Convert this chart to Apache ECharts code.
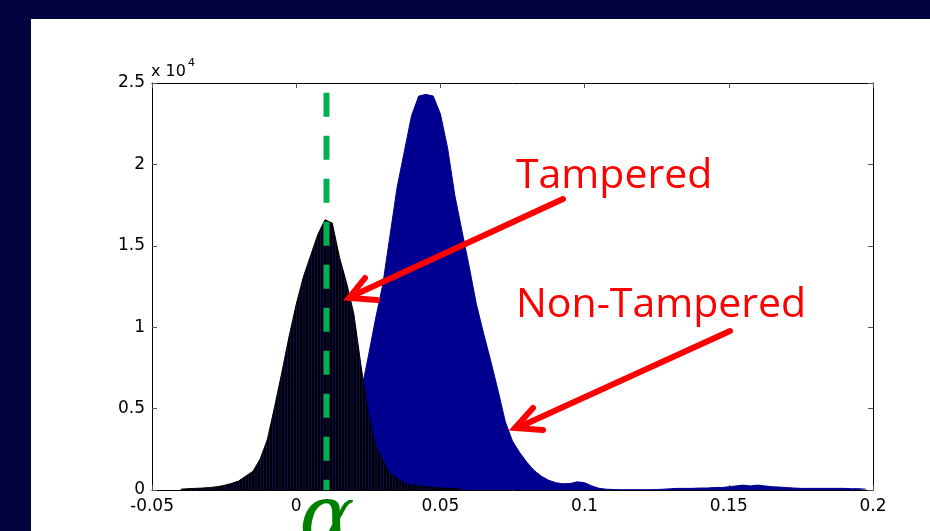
<!DOCTYPE html>
<html>
<head>
<meta charset="utf-8">
<script src="https://cdn.jsdelivr.net/npm/echarts@6.0.0/dist/echarts.min.js"></script>
<style>
  html, body { margin: 0; padding: 0; background: #03033f; }
  #histChart { width: 930px; height: 531px; }
</style>
</head>
<body>
<div id="histChart"></div>
<script>
// histogram bins (bin width 0.0025), counts
const binWidth = 0.0025;

const tamperedStart = -0.04;
const tamperedCounts = [
  50, 80, 100, 120, 150, 200, 280, 400, 550, 850,
  1150, 1900, 3100, 5100, 7200, 9400, 11400, 13100, 14400, 15700,
  16600, 16400, 14300, 12700, 10800, 7600, 4700, 2700, 1800, 1000,
  700, 400, 300, 250, 200, 150, 120, 100, 80, 50
];

const nonTamperedStart = 0.0075;
const nonTamperedCounts = [
  100, 300, 700, 1400, 2500, 4000, 6000, 8200, 10500, 12600,
  15600, 18600, 20800, 23000, 24200, 24300, 24200, 23100, 21000, 18100,
  15900, 13700, 11400, 9600, 7900, 6100, 4200, 3000, 2300, 1700,
  1200, 850, 600, 450, 380, 400, 500, 450, 250, 100,
  50, 30, 20, 20, 20, 20, 20, 30, 50, 80,
  100, 100, 100, 120, 120, 150, 150, 200, 250, 300,
  250, 300, 250, 200, 180, 150, 120, 100, 100, 100,
  100, 100, 100, 100, 80, 80, 50
];

// threshold alpha (green dashed line)
const alpha = 0.0105;
const alphaTop = 24400;

const xTicks = [-0.05, 0, 0.05, 0.1, 0.15, 0.2];
const yTickLabels = ['0', '0.5', '1', '1.5', '2', '2.5'];

const toPairs = (start, counts) =>
  counts.map((c, i) => [+(start + i * binWidth).toFixed(5), c]);

// black fill with thin navy bar edges, like the many narrow histogram bars
const stripeCanvas = document.createElement('canvas');
stripeCanvas.width = 3;
stripeCanvas.height = 4;
let sctx = stripeCanvas.getContext('2d');
sctx.fillStyle = '#000000';
sctx.fillRect(0, 0, 3, 4);
sctx.fillStyle = '#0b0b55';
sctx.fillRect(2, 0, 1, 4);

let myChart = echarts.init(document.getElementById('histChart'), null, { renderer: 'canvas' });

const axisFont = { fontFamily: 'DejaVu Sans', fontSize: 17, color: '#000' };

let option = {
  backgroundColor: '#03033f',
  animation: false,
  grid: { left: 152, right: 57, top: 83, bottom: 41 },
  xAxis: [
    {
      type: 'value', min: xTicks[0], max: xTicks[xTicks.length - 1], interval: 0.05,
      axisLine: { onZero: false, lineStyle: { color: '#000', width: 1 } },
      axisTick: { inside: true, length: 5, lineStyle: { color: '#555' } },
      axisLabel: Object.assign({ margin: 8, formatter: v => String(+v.toFixed(2)) }, axisFont),
      splitLine: { show: false }
    },
    {
      type: 'value', position: 'top', min: xTicks[0], max: xTicks[xTicks.length - 1], interval: 0.05,
      axisLine: { onZero: false, lineStyle: { color: '#000', width: 1 } },
      axisTick: { inside: true, length: 5, lineStyle: { color: '#555' } },
      axisLabel: { show: false },
      splitLine: { show: false }
    }
  ],
  yAxis: [
    {
      type: 'value', min: 0, max: 25000, interval: 5000,
      axisLine: { show: true, onZero: false, lineStyle: { color: '#000', width: 1 } },
      axisTick: { show: true, inside: true, length: 5, lineStyle: { color: '#555' } },
      axisLabel: Object.assign({ margin: 7, formatter: (v, i) => yTickLabels[i] }, axisFont),
      splitLine: { show: false }
    },
    {
      type: 'value', position: 'right', min: 0, max: 25000, interval: 5000,
      axisLine: { show: true, onZero: false, lineStyle: { color: '#000', width: 1 } },
      axisTick: { show: true, inside: true, length: 5, lineStyle: { color: '#555' } },
      axisLabel: { show: false },
      splitLine: { show: false }
    }
  ],
  series: [
    {
      name: 'Non-Tampered', type: 'line', data: toPairs(nonTamperedStart, nonTamperedCounts),
      showSymbol: false, z: 3,
      lineStyle: { color: '#000090', width: 1 },
      areaStyle: { color: '#000090', opacity: 1 }
    },
    {
      name: 'Tampered', type: 'line', data: toPairs(tamperedStart, tamperedCounts),
      showSymbol: false, z: 4,
      lineStyle: { color: '#000000', width: 1 },
      areaStyle: { color: { image: stripeCanvas, repeat: 'repeat' }, opacity: 1 }
    },
    {
      name: 'alpha', type: 'line', data: [[alpha, alphaTop], [alpha, 0]],
      showSymbol: false, z: 5,
      lineStyle: { color: '#00b050', width: 6, type: [24, 19], cap: 'butt' }
    }
  ],
  graphic: [
    { type: 'rect', z: -10, shape: { x: 31, y: 19, width: 899, height: 512 }, style: { fill: '#fff' } },
    { type: 'text', z: 10, x: 151, y: 72, style: { text: 'x 10', fontFamily: 'DejaVu Sans', fontSize: 16, fill: '#000', verticalAlign: 'middle' } },
    { type: 'text', z: 10, x: 188, y: 63, style: { text: '4', fontFamily: 'DejaVu Sans', fontSize: 11, fill: '#000', verticalAlign: 'middle' } },
    { type: 'text', z: 10, x: 516, y: 176, style: { text: 'Tampered', fontFamily: 'Open Sans', fontSize: 41, fill: '#ff0000', verticalAlign: 'middle' } },
    { type: 'text', z: 10, x: 516, y: 305, style: { text: 'Non-Tampered', fontFamily: 'Open Sans', fontSize: 41, fill: '#ff0000', verticalAlign: 'middle' } },
    { type: 'polyline', z: 10, shape: { points: [[563, 199], [350, 297]] }, style: { stroke: '#ff0000', lineWidth: 6, lineCap: 'round' } },
    { type: 'polyline', z: 10, shape: { points: [[365, 278], [349, 298], [377, 300]] }, style: { stroke: '#ff0000', fill: null, lineWidth: 6, lineCap: 'round', lineJoin: 'miter' } },
    { type: 'polyline', z: 10, shape: { points: [[730, 331], [517, 428]] }, style: { stroke: '#ff0000', lineWidth: 6, lineCap: 'round' } },
    { type: 'polyline', z: 10, shape: { points: [[533, 408], [515, 428], [543, 430]] }, style: { stroke: '#ff0000', fill: null, lineWidth: 6, lineCap: 'round', lineJoin: 'miter' } },
    { type: 'text', z: 10, x: 327, y: 522, style: { text: 'α', fontFamily: 'DejaVu Serif', fontStyle: 'italic', fontSize: 82, fill: '#008000', align: 'center', verticalAlign: 'middle' } }
  ]
};

myChart.setOption(option);
</script>
</body>
</html>
